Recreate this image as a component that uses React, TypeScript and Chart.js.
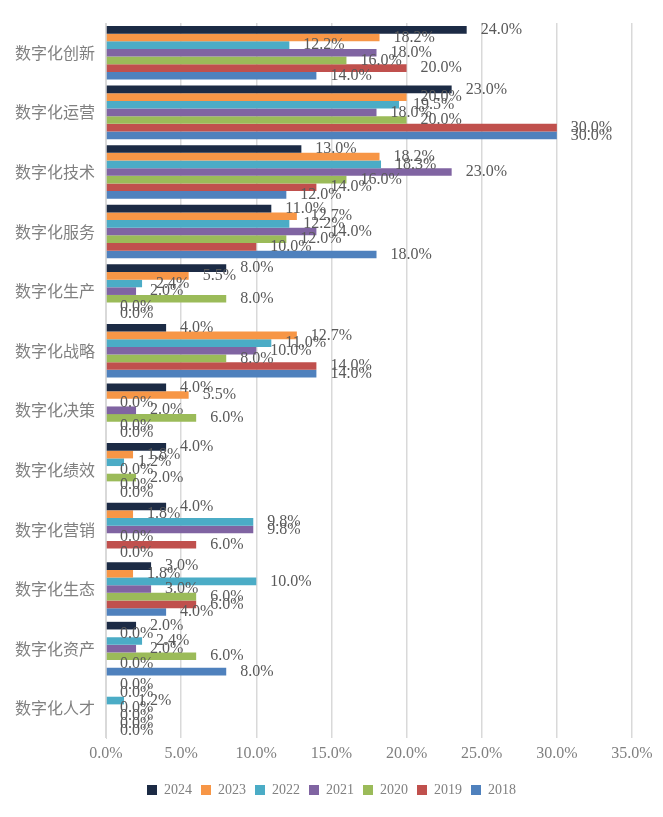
import React, { useEffect, useRef } from "react";
import { Chart, registerables } from "chart.js";

Chart.register(...registerables);

const categories = [
  "数字化创新",
  "数字化运营",
  "数字化技术",
  "数字化服务",
  "数字化生产",
  "数字化战略",
  "数字化决策",
  "数字化绩效",
  "数字化营销",
  "数字化生态",
  "数字化资产",
  "数字化人才",
];

const years = ["2024", "2023", "2022", "2021", "2020", "2019", "2018"];

const s2024 = [24.0, 23.0, 13.0, 11.0, 8.0, 4.0, 4.0, 4.0, 4.0, 3.0, 2.0, 0.0];
const s2023 = [18.2, 20.0, 18.2, 12.7, 5.5, 12.7, 5.5, 1.8, 1.8, 1.8, 0.0, 0.0];
const s2022 = [12.2, 19.5, 18.3, 12.2, 2.4, 11.0, 0.0, 1.2, 9.8, 10.0, 2.4, 1.2];
const s2021 = [18.0, 18.0, 23.0, 14.0, 2.0, 10.0, 2.0, 0.0, 9.8, 3.0, 2.0, 0.0];
const s2020 = [16.0, 20.0, 16.0, 12.0, 8.0, 8.0, 6.0, 2.0, 0.0, 6.0, 6.0, 0.0];
const s2019 = [20.0, 30.0, 14.0, 10.0, 0.0, 14.0, 0.0, 0.0, 6.0, 6.0, 0.0, 0.0];
const s2018 = [14.0, 30.0, 12.0, 18.0, 0.0, 14.0, 0.0, 0.0, 0.0, 4.0, 8.0, 0.0];

const seriesValues = [s2024, s2023, s2022, s2021, s2020, s2019, s2018];
const colors = ["#1C2B45", "#F79646", "#4BACC6", "#8064A2", "#9BBB59", "#C0504D", "#4F81BD"];

const xTicks = [0, 5, 10, 15, 20, 25, 30, 35];

const serif = "'Liberation Serif', 'Times New Roman', serif";
const labelFont = "16px " + serif;
const dataColor = "#595959";
const axisColor = "#808080";

const dataLabelPlugin = {
  id: "dataLabels",
  afterDatasetsDraw(chart: any) {
    const ctx = chart.ctx;
    ctx.save();
    ctx.font = labelFont;
    ctx.fillStyle = dataColor;
    ctx.textAlign = "left";
    ctx.textBaseline = "middle";
    chart.data.datasets.forEach((ds: any, di: number) => {
      const meta = chart.getDatasetMeta(di);
      meta.data.forEach((el: any, i: number) => {
        const v = ds.data[i] as number;
        ctx.fillText(v.toFixed(1) + "%", el.x + 14, el.y);
      });
    });
    ctx.restore();
  },
};

export default function App() {
  const ref = useRef<HTMLCanvasElement | null>(null);

  useEffect(() => {
    document.body.style.margin = "0";
    if (!ref.current) return;
    const chart = new Chart(ref.current, {
      type: "bar",
      data: {
        labels: categories,
        datasets: years.map((y, i) => ({
          label: y,
          data: seriesValues[i],
          backgroundColor: colors[i],
          borderWidth: 0,
          categoryPercentage: 0.9,
          barPercentage: 1.0,
        })),
      },
      options: {
        indexAxis: "y",
        animation: false,
        responsive: false,
        maintainAspectRatio: false,
        layout: { padding: { left: 0, right: 0, top: 23, bottom: 10 } },
        scales: {
          x: {
            min: 0,
            max: 35,
            afterBuildTicks: (scale: any) => {
              scale.ticks = xTicks.map((v) => ({ value: v }));
            },
            ticks: {
              callback: (v: any) => Number(v).toFixed(1) + "%",
              font: { family: serif, size: 16 },
              color: axisColor,
              padding: 6,
              maxRotation: 0,
            },
            grid: { color: "#d9d9d9", lineWidth: 1.5, drawTicks: false },
            border: { display: false },
            afterFit: (scale: any) => {
              scale.height = 36;
            },
          },
          y: {
            ticks: {
              font: { family: "'Noto Sans CJK SC', sans-serif", size: 16 },
              color: axisColor,
              padding: 11,
            },
            grid: { display: false, drawTicks: false },
            border: { display: true, color: "#d9d9d9", width: 1 },
            afterFit: (scale: any) => {
              scale.width = 106;
            },
          },
          yRight: {
            type: "linear",
            position: "right",
            display: true,
            grid: { display: false, drawTicks: false },
            border: { display: false },
            ticks: { display: false },
            afterFit: (scale: any) => {
              scale.width = 31;
            },
          },
        },
        plugins: {
          legend: {
            position: "bottom",
            labels: {
              boxWidth: 10,
              boxHeight: 10,
              padding: 9,
              font: { family: serif, size: 14 },
              color: axisColor,
            },
          },
          tooltip: { enabled: false },
        },
      },
      plugins: [dataLabelPlugin],
    } as any);
    return () => chart.destroy();
  }, []);

  return (
    <div style={{ width: 663, height: 817 }}>
      <canvas ref={ref} width={663} height={817} style={{ width: 663, height: 817 }} />
    </div>
  );
}
